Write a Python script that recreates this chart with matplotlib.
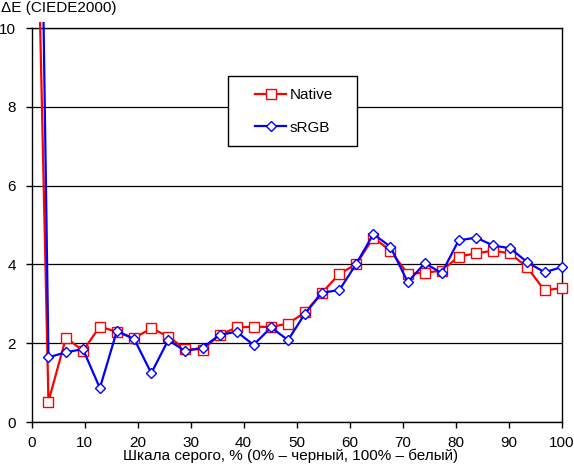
import matplotlib
matplotlib.use("Agg")
import matplotlib.pyplot as plt
from matplotlib.patches import Rectangle

plt.rcParams['font.family'] = ['Liberation Sans', 'DejaVu Sans']

x_vals = [0, 3.2, 6.5, 9.7, 12.9, 16.1, 19.4, 22.6, 25.8, 29.0, 32.3, 35.5, 38.7,
          41.9, 45.2, 48.4, 51.6, 54.8, 58.1, 61.3, 64.5, 67.7, 71.0, 74.2, 77.4,
          80.6, 83.9, 87.1, 90.3, 93.5, 96.8, 100]
native = [20.0, 0.52, 2.14, 1.81, 2.42, 2.29, 2.13, 2.38, 2.17, 1.85, 1.84, 2.21,
          2.40, 2.42, 2.41, 2.50, 2.78, 3.28, 3.76, 4.01, 4.68, 4.35, 3.76, 3.79,
          3.84, 4.20, 4.28, 4.35, 4.28, 3.93, 3.34, 3.40]
srgb = [31.0, 1.64, 1.77, 1.85, 0.86, 2.31, 2.10, 1.24, 2.08, 1.80, 1.89, 2.21,
        2.29, 1.96, 2.40, 2.08, 2.75, 3.28, 3.35, 4.02, 4.77, 4.45, 3.55, 4.03,
        3.78, 4.61, 4.68, 4.48, 4.41, 4.06, 3.80, 3.93]
series_names = ["Native", "sRGB"]
x_ticks = [0, 10, 20, 30, 40, 50, 60, 70, 80, 90, 100]
y_ticks = [0, 2, 4, 6, 8, 10]
y_title = "ΔE (CIEDE2000)"
x_title = "Шкала серого, % (0% – черный, 100% – белый)"

fig = plt.figure(figsize=(5.74, 4.72), dpi=100)
ax = fig.add_axes([31.5 / 574, 50 / 472, 530 / 574, 394 / 472])

ax.set_xlim(0, 100)
ax.set_ylim(0, 10)
ax.set_xticks(x_ticks)
ax.set_yticks(y_ticks)
ax.tick_params(direction='out', length=4, width=1, labelsize=11, color='black')
ax.tick_params(axis='x', pad=6)
ax.tick_params(axis='y', pad=7)
ax.yaxis.grid(True, color='black', linewidth=0.9)
ax.set_axisbelow(True)
for s in ax.spines.values():
    s.set_linewidth(1.0)
    s.set_color('black')

clip = Rectangle((-0.03, 0), 1.06, 1.014, transform=ax.transAxes)

l1, = ax.plot(x_vals, native, color='#ff0000', lw=1.6, marker='s', ms=7.2,
              mfc='white', mec='#ff0000', mew=1.0, zorder=3, label=series_names[0])
l2, = ax.plot(x_vals, srgb, color='#0000ff', lw=1.6, marker='D', ms=5.6,
              mfc='white', mec='#0000ff', mew=1.0, zorder=4, label=series_names[1])
for ln in (l1, l2):
    ln.set_clip_path(clip)

frame = Rectangle((0.370, 0.700), 0.245, 0.178, transform=ax.transAxes,
                  facecolor='white', edgecolor='black', lw=1.0, zorder=5)
ax.add_patch(frame)
leg = ax.legend(handles=[l1, l2], loc='upper left', bbox_to_anchor=(0.4226, 0.847),
                frameon=False, borderpad=0, borderaxespad=0, fontsize=11,
                handlelength=2.0, handletextpad=0.25, labelspacing=1.2)
leg.set_zorder(6)

fig.text(1 / 574, 1 - 12 / 472, y_title, fontsize=11, ha='left', va='baseline')
fig.text(291 / 574, 12 / 472, x_title, fontsize=11, ha='center', va='baseline')

fig.savefig("out.png", dpi=100)
